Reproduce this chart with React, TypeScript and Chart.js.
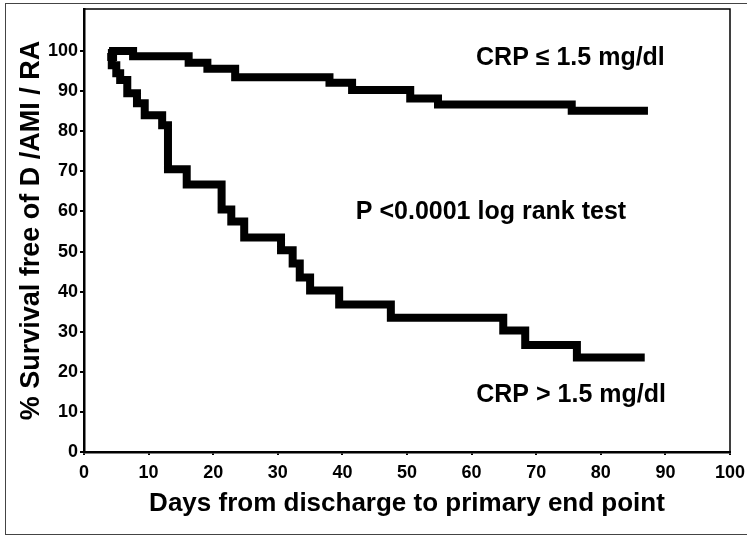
import React, { useEffect, useRef } from "react";
import { Chart, registerables } from "chart.js";

Chart.register(...registerables);

// Kaplan-Meier curves: [day, % survival] (value after each event)
const lowCrpDays = [3.6, 4.5, 7.6, 16.2, 19.1, 23.4, 38, 41.5, 50.5, 54.8, 75.5, 87.3];
const lowCrpSurvival = [98.5, 100, 98.7, 97.1, 95.6, 93.5, 92.1, 90.3, 88.2, 86.7, 85.1, 85.1];

const highCrpDays = [3.7, 4.3, 5.0, 5.6, 6.7, 8.2, 9.4, 12.1, 13.0, 15.9, 21.3, 22.8, 24.8, 30.5, 32.3, 33.4, 35.0, 39.5, 47.5, 64.9, 68.3, 76.3, 86.8];
const highCrpSurvival = [99.5, 96.5, 94.5, 92.8, 89.5, 87.0, 84.0, 81.5, 70.5, 66.7, 60.5, 57.5, 53.5, 50.3, 47.0, 43.5, 40.3, 36.8, 33.5, 30.3, 26.7, 23.6, 23.6];

const xTickValues = [0, 10, 20, 30, 40, 50, 60, 70, 80, 90, 100];
const yTickValues = [0, 10, 20, 30, 40, 50, 60, 70, 80, 90, 100];

const annotationTexts = ["CRP \u2264 1.5 mg/dl", "P <0.0001 log rank test", "CRP > 1.5 mg/dl"];
const annotationDays = [75.3, 63.0, 75.4];
const annotationValues = [98.2, 59.8, 14.3];

const xTitle = "Days from discharge to primary end point";
const yTitle = "% Survival free of D /AMI / RA";

const FONT = "'Liberation Sans', Arial, Helvetica, sans-serif";

function toPoints(xs: number[], ys: number[]) {
  return xs.map((x, i) => ({ x, y: ys[i] }));
}

export default function App() {
  const ref = useRef<HTMLCanvasElement | null>(null);

  useEffect(() => {
    document.body.style.margin = "0";
    const canvas = ref.current;
    if (!canvas) return;

    const framePlugin = {
      id: "frame",
      beforeDraw(chart: any) {
        const ctx = chart.ctx;
        ctx.save();
        ctx.fillStyle = "#ffffff";
        ctx.fillRect(0, 0, chart.width, chart.height);
        ctx.strokeStyle = "#444";
        ctx.lineWidth = 1;
        ctx.strokeRect(5.5, 3.5, chart.width + 10, chart.height - 6);
        ctx.restore();
      },
      afterDraw(chart: any) {
        const { ctx, chartArea } = chart;
        ctx.save();
        ctx.strokeStyle = "#000";
        ctx.lineWidth = 1.5;
        ctx.beginPath();
        ctx.moveTo(chartArea.left, chartArea.top);
        ctx.lineTo(chartArea.right, chartArea.top);
        ctx.lineTo(chartArea.right, chartArea.bottom);
        ctx.stroke();
        ctx.restore();
      },
    };

    const textPlugin = {
      id: "annotations",
      afterDatasetsDraw(chart: any) {
        const { ctx, scales } = chart;
        ctx.save();
        ctx.fillStyle = "#000";
        ctx.font = `bold 25px ${FONT}`;
        ctx.textAlign = "center";
        ctx.textBaseline = "middle";
        annotationTexts.forEach((t, i) => {
          const x = scales.x.getPixelForValue(annotationDays[i]);
          const y = scales.y.getPixelForValue(annotationValues[i]);
          ctx.fillText(t, x, y);
        });
        ctx.restore();
      },
    };

    const chart = new Chart(canvas, {
      type: "line",
      data: {
        datasets: [
          {
            label: "CRP <= 1.5 mg/dl",
            data: toPoints(lowCrpDays, lowCrpSurvival),
            borderColor: "#000",
            borderWidth: 8,
            stepped: true,
            pointRadius: 0,
            borderCapStyle: "butt",
            borderJoinStyle: "miter",
            fill: false,
          },
          {
            label: "CRP > 1.5 mg/dl",
            data: toPoints(highCrpDays, highCrpSurvival),
            borderColor: "#000",
            borderWidth: 8,
            stepped: true,
            pointRadius: 0,
            borderCapStyle: "butt",
            borderJoinStyle: "miter",
            fill: false,
          },
        ],
      },
      options: {
        animation: false,
        responsive: false,
        clip: false as any,
        layout: { padding: { left: 0, top: 9, right: 17, bottom: 0 } },
        plugins: {
          legend: { display: false },
          tooltip: { enabled: false },
        },
        scales: {
          x: {
            type: "linear",
            min: 0,
            max: 100,
            afterFit(scale: any) {
              scale.height = 85;
              scale.paddingLeft = 0;
              scale.paddingRight = 0;
            },
            afterBuildTicks(scale: any) {
              scale.ticks = xTickValues.map((v) => ({ value: v }));
            },
            border: { display: true, color: "#000", width: 2.5 },
            grid: {
              display: true,
              drawOnChartArea: false,
              drawTicks: true,
              tickLength: 3,
              color: "#000",
              lineWidth: 2,
            },
            ticks: {
              color: "#000",
              padding: 7,
              maxRotation: 0,
              autoSkip: false,
              font: { family: FONT, size: 18, weight: "bold" },
            },
            title: {
              display: true,
              text: xTitle,
              color: "#000",
              font: { family: FONT, size: 26, weight: "bold" },
              padding: { top: 0, bottom: 18 },
            },
          },
          y: {
            type: "linear",
            min: 0,
            max: 110.5,
            afterFit(scale: any) {
              scale.width = 84;
              scale.paddingTop = 0;
              scale.paddingBottom = 0;
            },
            afterBuildTicks(scale: any) {
              scale.ticks = yTickValues.map((v) => ({ value: v }));
            },
            border: { display: true, color: "#000", width: 2.5 },
            grid: {
              display: true,
              drawOnChartArea: false,
              drawTicks: true,
              tickLength: 4,
              color: "#000",
              lineWidth: 2,
            },
            ticks: {
              color: "#000",
              padding: 2,
              autoSkip: false,
              font: { family: FONT, size: 18, weight: "bold" },
            },
            title: {
              display: true,
              text: yTitle,
              color: "#000",
              font: { family: FONT, size: 27, weight: "bold" },
              padding: { top: 15, bottom: 0 },
            },
          },
        },
      },
      plugins: [framePlugin, textPlugin],
    });

    return () => chart.destroy();
  }, []);

  return (
    <div style={{ position: "absolute", left: 0, top: 0, width: 747, height: 537 }}>
      <canvas ref={ref} width={747} height={537} style={{ width: 747, height: 537 }} />
    </div>
  );
}
